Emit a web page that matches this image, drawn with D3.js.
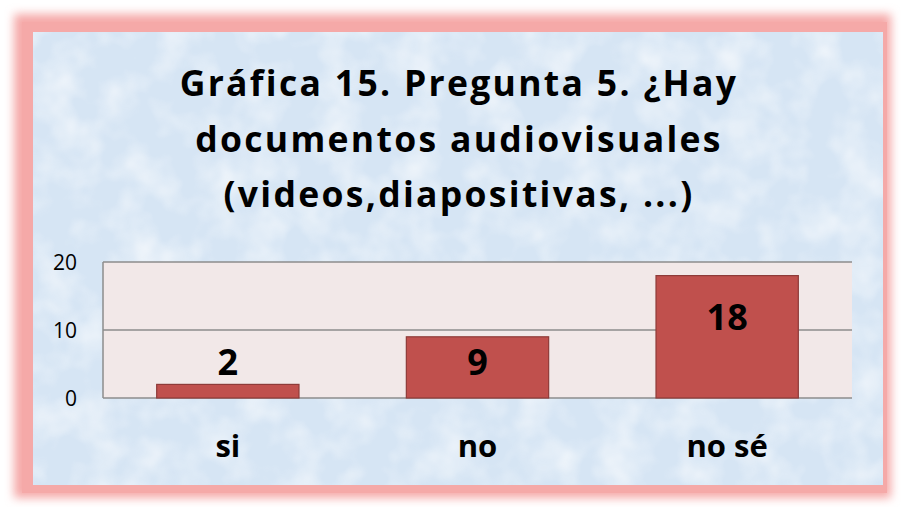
<!DOCTYPE html>
<html>
<head>
<meta charset="utf-8">
<script src="https://cdn.jsdelivr.net/npm/d3@7"></script>
<style>
  html, body { margin: 0; padding: 0; background: #ffffff; }
  svg { display: block; }
</style>
</head>
<body>
<svg id="chart" width="901" height="507"></svg>
<script>
// chart data
const categories = ['si', 'no', 'no sé'];
const counts = [2, 9, 18];
const yTicks = [0, 10, 20];
const titleLines = ['Gráfica 15. Pregunta 5. ¿Hay', 'documentos audiovisuales', '(videos,diapositivas, ...)'];

const W = 901, H = 507;
const svg = d3.select('#chart');
const fontFam = '"Open Sans", Lato, sans-serif';

const defs = svg.append('defs');
const glow = defs.append('filter').attr('id', 'glow')
  .attr('x', '-10%').attr('y', '-10%').attr('width', '120%').attr('height', '120%');
glow.append('feGaussianBlur').attr('stdDeviation', 5);

// mottled paper texture
const tex = defs.append('filter').attr('id', 'tex')
  .attr('x', 0).attr('y', 0).attr('width', '100%').attr('height', '100%');
tex.append('feTurbulence').attr('type', 'fractalNoise')
  .attr('baseFrequency', 0.025).attr('numOctaves', 3).attr('seed', 4).attr('result', 'noise');
tex.append('feColorMatrix').attr('in', 'noise').attr('type', 'matrix')
  .attr('values', '0 0 0 0 1  0 0 0 0 1  0 0 0 0 1  0 0 0 -1.6 0.95').attr('result', 'spots');
tex.append('feComposite').attr('in', 'spots').attr('in2', 'SourceGraphic').attr('operator', 'in');

// outer pink frame
svg.append('rect')
  .attr('x', 14).attr('y', 14).attr('width', 877).attr('height', 484)
  .attr('fill', '#f5a9a8')
  .attr('filter', 'url(#glow)');
svg.append('rect')
  .attr('x', 22).attr('y', 22).attr('width', 865).attr('height', 471)
  .attr('fill', '#f5a9a8');

// light blue panel
svg.append('rect')
  .attr('x', 33).attr('y', 32).attr('width', 850).attr('height', 453)
  .attr('fill', '#d6e5f4');
svg.append('rect')
  .attr('x', 33).attr('y', 32).attr('width', 850).attr('height', 453)
  .attr('fill', '#d6e5f4')
  .attr('filter', 'url(#tex)')
  .attr('opacity', 0.75);

// title
svg.append('g').selectAll('text')
  .data(titleLines)
  .join('text')
  .attr('x', 459)
  .attr('y', (d, i) => 96 + i * 55.5)
  .attr('text-anchor', 'middle')
  .attr('font-family', fontFam)
  .attr('font-weight', 'bold')
  .attr('font-size', 35.5)
  .attr('letter-spacing', 2.3)
  .attr('fill', '#000')
  .text(d => d);

// plot area
const plot = { left: 103, right: 852, top: 262, bottom: 398 };

const x = d3.scaleBand()
  .domain(categories)
  .range([plot.left, plot.right])
  .paddingInner(0.43)
  .paddingOuter(0.215);

const y = d3.scaleLinear()
  .domain([0, 20])
  .range([plot.bottom, plot.top]);

svg.append('rect')
  .attr('x', plot.left).attr('y', plot.top)
  .attr('width', plot.right - plot.left).attr('height', plot.bottom - plot.top)
  .attr('fill', '#f2e8e8');

// gridlines
svg.append('g').selectAll('line')
  .data(yTicks)
  .join('line')
  .attr('x1', plot.left).attr('x2', plot.right)
  .attr('y1', d => y(d)).attr('y2', d => y(d))
  .attr('stroke', '#8c8c8c')
  .attr('stroke-width', 1.5);

// bars
svg.append('g').selectAll('rect')
  .data(categories)
  .join('rect')
  .attr('x', d => x(d))
  .attr('y', (d, i) => y(counts[i]))
  .attr('width', x.bandwidth())
  .attr('height', (d, i) => y(0) - y(counts[i]))
  .attr('fill', '#c0504d')
  .attr('stroke', '#8e3b39')
  .attr('stroke-width', 1.2);

// left axis line
svg.append('line')
  .attr('x1', plot.left).attr('x2', plot.left)
  .attr('y1', plot.top).attr('y2', plot.bottom)
  .attr('stroke', '#8c8c8c').attr('stroke-width', 1.5);

// y axis labels
const yAxis = d3.axisLeft(y).tickValues(yTicks).tickSize(0).tickPadding(26);
const yg = svg.append('g')
  .attr('transform', `translate(${plot.left},0)`)
  .call(yAxis);
yg.select('.domain').remove();
yg.selectAll('text')
  .attr('font-family', fontFam)
  .attr('font-size', 21)
  .attr('fill', '#000')
  .attr('dy', '0.35em');

// category labels
const xAxis = d3.axisBottom(x).tickSize(0).tickPadding(0);
const xg = svg.append('g')
  .attr('transform', `translate(0,${plot.bottom})`)
  .call(xAxis);
xg.select('.domain').remove();
xg.selectAll('text')
  .attr('y', 59)
  .attr('dy', 0)
  .attr('font-family', fontFam)
  .attr('font-weight', 'bold')
  .attr('font-size', 31)
  .attr('fill', '#000');

// value labels
svg.append('g').selectAll('text')
  .data(categories)
  .join('text')
  .attr('x', d => x(d) + x.bandwidth() / 2)
  .attr('y', (d, i) => counts[i] < 5 ? 375 : y(counts[i]) + 54 - (counts[i] > 10 ? 0 : 16))
  .attr('text-anchor', 'middle')
  .attr('font-family', fontFam)
  .attr('font-weight', 'bold')
  .attr('font-size', 36)
  .attr('fill', '#000')
  .text((d, i) => counts[i]);
</script>
</body>
</html>
